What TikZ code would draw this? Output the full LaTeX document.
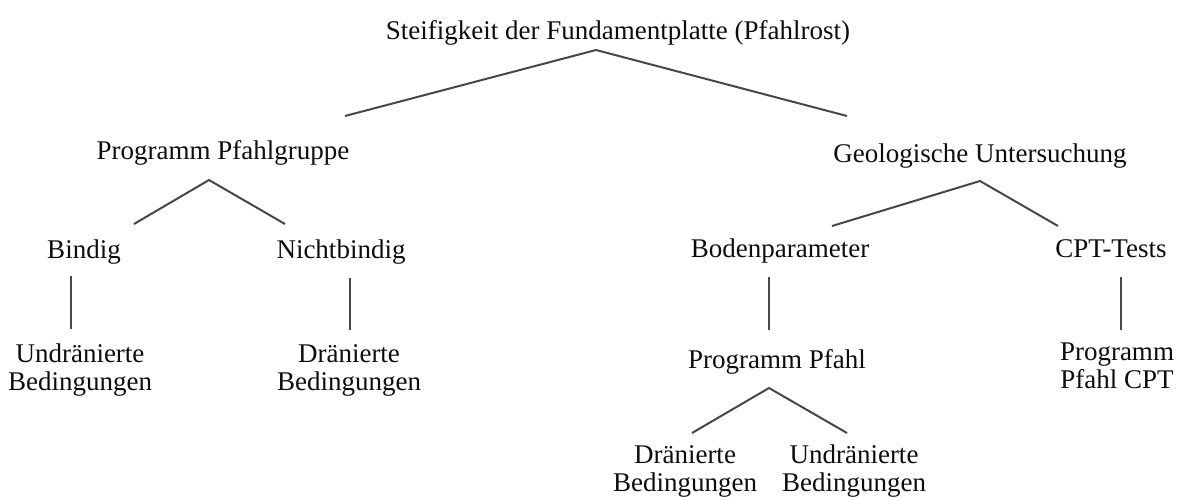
\documentclass[tikz,border=0pt]{standalone}
\usepackage{fontspec}
\setmainfont{Liberation Serif}

\begin{document}
\begin{tikzpicture}[x=1pt, y=-1pt,
    lbl/.style={inner sep=0pt, anchor=base, align=center, text=black!95, font=\fontsize{27}{28}\selectfont},
    branch/.style={draw=black!72, line width=2pt}
]
\useasboundingbox (0,0) rectangle (1184,500);

% Level 0
\node[lbl] (root) at (618, 40) {Steifigkeit der Fundamentplatte (Pfahlrost)};

% Level 1
\node[lbl] (grp) at (223, 160) {Programm Pfahlgruppe};
\node[lbl] (geo) at (980, 163) {Geologische Untersuchung};

% Level 2
\node[lbl] (bindig) at (84, 258) {Bindig};
\node[lbl] (nicht) at (341, 258) {Nichtbindig};
\node[lbl] (boden) at (780, 257) {Bodenparameter};
\node[lbl] (cpt) at (1111, 257) {CPT-Tests};

% Level 3 (two-line nodes sit on their last line)
\node[lbl] (undrL) at (80, 390) {Undränierte\\Bedingungen};
\node[lbl] (draenL) at (349, 390) {Dränierte\\Bedingungen};
\node[lbl] (pfahl) at (777, 368) {Programm Pfahl};
\node[lbl] (pcpt) at (1117, 388) {Programm\\Pfahl CPT};

% Level 4
\node[lbl] (draenB) at (685, 491) {Dränierte\\Bedingungen};
\node[lbl] (undrB) at (854, 491) {Undränierte\\Bedingungen};

% Branch points
\coordinate (root-fork) at (596, 50);
\coordinate (grp-top) at (345, 116);
\coordinate (geo-top) at (847, 116);
\coordinate (grp-fork) at (209, 180);
\coordinate (bindig-top) at (134, 224);
\coordinate (nicht-top) at (285, 224);
\coordinate (geo-fork) at (980, 181);
\coordinate (boden-top) at (832, 226);
\coordinate (cpt-top) at (1058, 226);
\coordinate (bindig-bot) at (71, 276);
\coordinate (undrL-top) at (71, 329);
\coordinate (nicht-bot) at (350, 278);
\coordinate (draenL-top) at (350, 330);
\coordinate (boden-bot) at (769, 277);
\coordinate (pfahl-top) at (769, 330);
\coordinate (cpt-bot) at (1121, 277);
\coordinate (pcpt-top) at (1121, 330);
\coordinate (pfahl-fork) at (769, 388);
\coordinate (draenB-top) at (692, 433);
\coordinate (undrB-top) at (847, 433);

% Lines
\draw[branch] (grp-top) -- (root-fork) -- (geo-top);
\draw[branch] (bindig-top) -- (grp-fork) -- (nicht-top);
\draw[branch] (boden-top) -- (geo-fork) -- (cpt-top);
\draw[branch] (bindig-bot) -- (undrL-top);
\draw[branch] (nicht-bot) -- (draenL-top);
\draw[branch] (boden-bot) -- (pfahl-top);
\draw[branch] (cpt-bot) -- (pcpt-top);
\draw[branch] (draenB-top) -- (pfahl-fork) -- (undrB-top);

\end{tikzpicture}
\end{document}
